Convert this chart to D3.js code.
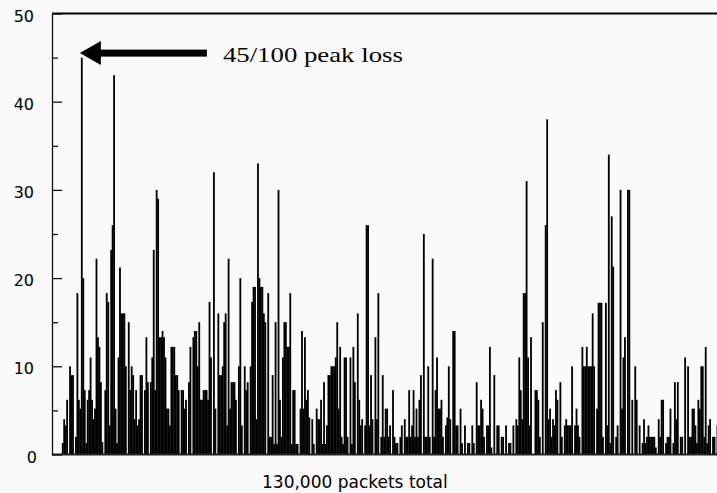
<!DOCTYPE html>
<html>
<head>
<meta charset="utf-8">
<script src="https://cdn.jsdelivr.net/npm/d3@7"></script>
<style>
  body { margin: 0; background: #fafafa; }
  svg { display: block; background: #fafafa; }
</style>
</head>
<body>
<svg width="717" height="493"></svg>
<script>
let lossRate = [
  0,0,0,0,0,0, 1.3,4,3.3,6.2,0, 10,9,9,0,2, 18.3,6.2,5.2,45,20, 7.3,1.3,6.2,7.3,11,
  6.2,4,5.2,22.2,13.3, 12.2,8.2,1.4,0,7.3, 18.3,17.3,3.3,23.2,26, 43,5.2,1.3,11,21.2,
  16,16,16,10,0, 15,7.3,10,9,4, 7.3,3.3,4,9,9, 0,7.3,13.3,8.2,0, 8.2,11,23.2,7.3,30, 29,13.3,

  13.3,14,13.3,11,5.2, 5.2,3.3,12.2,12.2,12.2, 9,9,7.3,0,7.3, 7.3,5.2,6.2,0,8.2,
  12.2,0,13.3,14,14, 10,15,6.2,6.2,7.3, 7.3,7.3,6.2,17.3,11, 0,32,5.2,0,16,
  9,9,10,15,16, 3.3,22.2,5.2,8.2,8.2, 8.2,6.2,0,10,20, 3.3,0,10,7.3,8.2,
  0,10,17.3,19,19, 4,33,20,19,19, 16,15,0,18.3,2,

  2,9,1.2,15,1.2, 30,6.2,2,11,15, 15,12.2,12.2,18.3,1.2, 7.3,7.3,1.2,1.2,0,
  5.2,14,5.2,13.3,6.2, 7.3,4.2,0,4,1.2, 0,5.2,4,4,6.2, 1.2,8.2,1.2,3.3,9,
  9,10,10,10,11, 15,5.2,12.2,2,1.2, 11,11,2,0,11, 1.2,12.2,8.2,0,16,
  6.2,3.3,4,0,3.3, 26,26,3.3,9,4, 0,13.3,4,18.3,

  0,2,9,2,5.2, 5.2,2,3.3,0,7.3, 2,1.3,1.3,0,2, 3.3,0,4,2,2, 7.3,2,3.3,7.3,2,
  5.2,2,6.2,9,0, 25,2,2,10,2, 0,22.2,2,7.3,11, 5.2,5.2,6.2,2,0, 3.3,4.2,10,4,0,
  14,14,3.3,3.3,0, 5.2,1.3,0,3.3,0, 1.3,1.3,0,3.3,1.3, 0,8.2,3.3,3.3,6.2,
  5.2,2,0,3.3,3.3, 12.2,

  0.8,0,9,0,3.3, 3.3,0,2,2,0, 3.3,0,1.3,1.3,0, 3.3,0,4,3.3,11, 7.3,4,18.3,18.3,31,
  11,3.3,13.3,0,0, 7.3,7.3,6.2,2,0, 15,0,26,38,4, 5.2,2,4,3.3,7.3, 6.2,0,8.2,2,0,
  3.3,4,3.3,3.3,3.3, 10,0,3.3,5.2,3.3, 2,0,12.2,10,10, 12.2,10,10,10,16, 10,0,5.2,17.2,

  17.2,17.2,2,0,17.2, 3.3,34,1.3,27,21.3, 0,2,3.3,0,30, 5.2,11,13.3,0,30,
  30,0,6.2,0,10, 6.2,0,3.3,0,1.3, 4,1.3,2,3.3,2, 2,2,2,0.8,0, 4,2,6.2,6.2,0,
  1.3,2,2,5.2,0, 1.3,8.2,4,8.2,0, 2,2,0,11,0, 10,2,2,5.2,5.2, 3.3,1.3,6.2,5.2,10,
  10,2,12.2,1.3,3.3, 4,0,2,2,0, 3.3
]

let majorTicks = [0, 10, 20, 30, 40, 50]
let minorTicks = [5, 15, 25, 35, 45]
let peakLabel = '45/100 peak loss'
let xLabel = '130,000 packets total'

let plotLeft = 52
let plotRight = 718
let plotTop = 13.5
let plotBottom = 454.5

let svg = d3.select('svg')

const xScale = d3.scaleBand()
  .domain(lossRate.map((d, i) => i))
  .range([plotLeft + 1, plotRight])
  .padding(0)

const yScale = d3.scaleLinear()
  .domain([0, 50])
  .range([plotBottom, plotTop])

// bars (slightly overlapped so neighbours merge into solid black)
svg.append('g')
  .selectAll('rect')
  .data(lossRate)
  .enter()
  .append('rect')
  .attr('x', (d, i) => xScale(i))
  .attr('y', d => yScale(d))
  .attr('width', xScale.bandwidth() + 0.35)
  .attr('height', d => plotBottom - yScale(d))
  .attr('fill', '#000')

// frame: top line + baseline
svg.append('line')
  .attr('x1', plotLeft).attr('x2', 717)
  .attr('y1', plotTop).attr('y2', plotTop)
  .attr('stroke', '#000').attr('stroke-width', 2)

svg.append('line')
  .attr('x1', plotLeft).attr('x2', 717)
  .attr('y1', plotBottom).attr('y2', plotBottom)
  .attr('stroke', '#222').attr('stroke-width', 2)

// minor ticks
svg.append('g')
  .attr('transform', `translate(${plotLeft}, 0)`)
  .call(d3.axisLeft(yScale).tickValues(minorTicks).tickSize(-6).tickFormat(''))
  .call(g => g.select('.domain').remove())
  .selectAll('line').attr('stroke', '#111').attr('stroke-width', 1.3)

// major ticks + labels
let yAxis = svg.append('g')
  .attr('transform', `translate(${plotLeft}, 0)`)
  .call(d3.axisLeft(yScale).tickValues(majorTicks).tickSize(-10).tickSizeOuter(0).tickPadding(18))

yAxis.select('.domain').attr('stroke', '#111').attr('stroke-width', 1.3)
yAxis.selectAll('line').attr('stroke', '#111').attr('stroke-width', 1.3)
yAxis.selectAll('text')
  .attr('font-family', 'DejaVu Sans')
  .attr('font-size', 16)
  .attr('fill', '#000')
  .attr('dy', '0.48em')
  .attr('dx', d => d === 0 ? 3 : 0)

// peak annotation arrow
let peakIdx = lossRate.indexOf(d3.max(lossRate))
let tipX = xScale(peakIdx) - 1
let tipY = yScale(d3.max(lossRate)) - 4.5

svg.append('path')
  .attr('d', `M${tipX},${tipY} L${tipX + 21},${tipY - 12} L${tipX + 21},${tipY + 12} Z`)
  .attr('fill', '#000')

svg.append('rect')
  .attr('x', tipX + 19)
  .attr('y', tipY - 3.5)
  .attr('width', 108)
  .attr('height', 7)
  .attr('fill', '#000')

svg.append('text')
  .attr('x', tipX + 143)
  .attr('y', tipY + 9)
  .attr('font-family', 'Liberation Serif')
  .attr('font-size', 22)
  .attr('textLength', 180)
  .attr('lengthAdjust', 'spacingAndGlyphs')
  .attr('fill', '#000')
  .text(peakLabel)

svg.append('text')
  .attr('x', 262)
  .attr('y', 488)
  .attr('font-family', 'DejaVu Sans')
  .attr('font-size', 17)
  .attr('fill', '#000')
  .text(xLabel)
</script>
</body>
</html>
